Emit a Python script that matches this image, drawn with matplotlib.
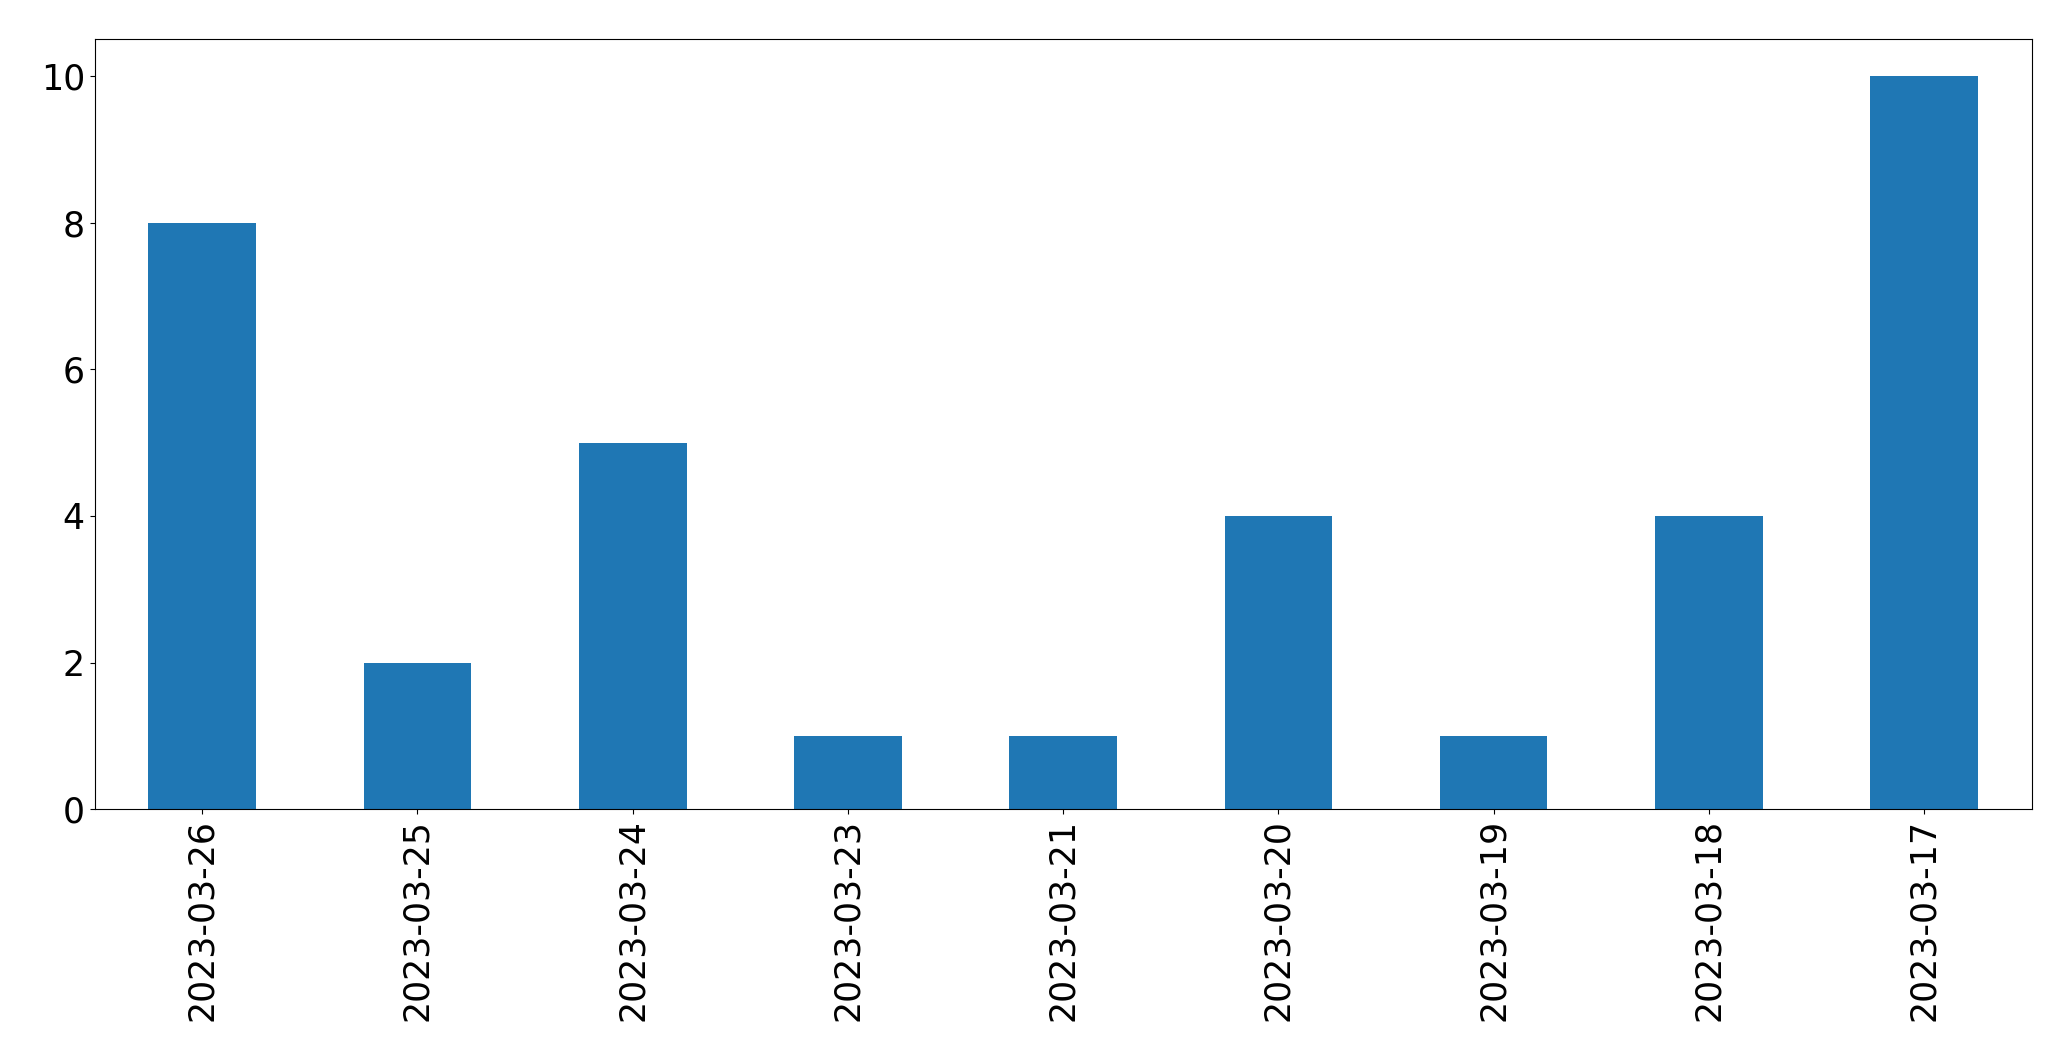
import matplotlib
matplotlib.use("Agg")
import matplotlib.pyplot as plt
import pandas as pd

dates = ["2023-03-26", "2023-03-25", "2023-03-24", "2023-03-23", "2023-03-21",
         "2023-03-20", "2023-03-19", "2023-03-18", "2023-03-17"]
counts = [8, 2, 5, 1, 1, 4, 1, 4, 10]

fig = plt.figure(figsize=(20.71, 10.61), dpi=100)
ax = fig.add_axes([0.0457, 0.2372, 0.981 - 0.0457, 0.963 - 0.2372])
s = pd.Series(counts, index=dates)
s.plot(kind="bar", ax=ax, color="#1f77b4")
ax.tick_params(axis="both", labelsize=25)
ax.set_xlabel("")
fig.savefig("out.png", dpi=100)
